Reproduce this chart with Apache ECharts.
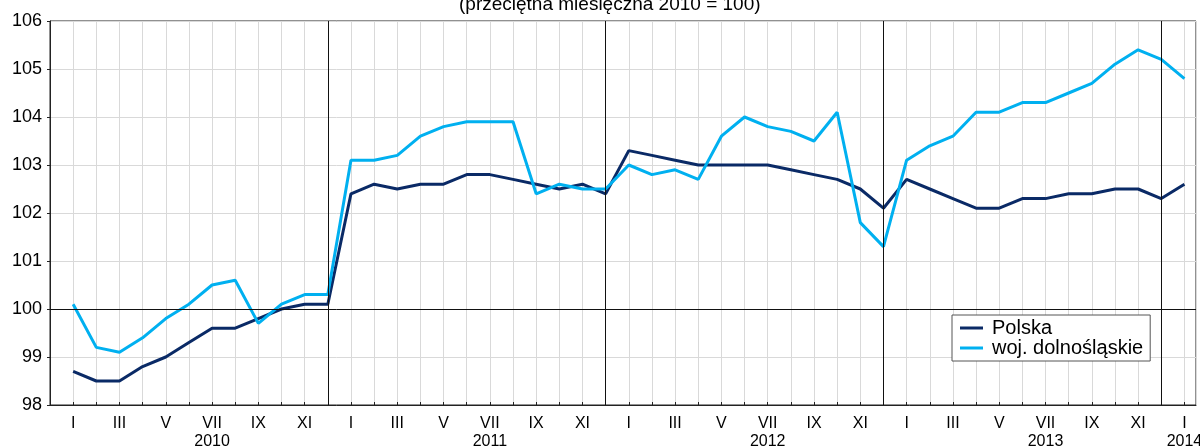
<!DOCTYPE html>
<html>
<head>
<meta charset="utf-8">
<title>Wskaźnik cen</title>
<script src="https://cdn.jsdelivr.net/npm/echarts@6/dist/echarts.min.js"></script>
<style>
body{margin:0;background:#fff;}
</style>
</head>
<body>
<div id="main" style="width:1200px;height:448px"></div>
<script>
// miesiace I 2010 - I 2014
var months=['I','II','III','IV','V','VI','VII','VIII','IX','X','XI','XII'];
var years=['2010','2011','2012','2013','2014'];
var polska=[98.7,98.5,98.5,98.8,99.0,99.3,99.6,99.6,99.8,100.0,100.1,100.1,
	102.4,102.6,102.5,102.6,102.6,102.8,102.8,102.7,102.6,102.5,102.6,102.4,
	103.3,103.2,103.1,103.0,103.0,103.0,103.0,102.9,102.8,102.7,102.5,102.1,
	102.7,102.5,102.3,102.1,102.1,102.3,102.3,102.4,102.4,102.5,102.5,102.3,
	102.6];
var dolnoslaskie=[100.1,99.2,99.1,99.4,99.8,100.1,100.5,100.6,99.7,100.1,100.3,100.3,
	103.1,103.1,103.2,103.6,103.8,103.9,103.9,103.9,102.4,102.6,102.5,102.5,
	103.0,102.8,102.9,102.7,103.6,104.0,103.8,103.7,103.5,104.1,101.8,101.3,
	103.1,103.4,103.6,104.1,104.1,104.3,104.3,104.5,104.7,105.1,105.4,105.2,
	104.8];
var yearBreaks=[11,23,35,47];

function pairs(arr){
	var out=[];
	for(var i=0;i<arr.length;i++) out.push([i,arr[i]]);
	return out;
}

var myChart=echarts.init(document.getElementById('main'));
var font='Arial, "Liberation Sans", sans-serif';

var option={
	animation:false,
	backgroundColor:'#fff',
	textStyle:{fontFamily:font},
	graphic:[{
		type:'text',
		left:459,
		top:-5,
		style:{text:'(przeciętna miesięczna 2010 = 100)',font:'19px '+font,fill:'#000'}
	}],
	grid:{left:50,right:4,top:21,bottom:43,outerBoundsMode:'none',show:true,borderColor:'#222',borderWidth:1},
	legend:{
		left:952,top:315,orient:'vertical',
		backgroundColor:'#fff',borderColor:'#555',borderWidth:1,
		padding:[3,7,3,8],itemGap:0,itemWidth:23,itemHeight:3,icon:'rect',
		textStyle:{fontSize:20,lineHeight:19,color:'#000',fontFamily:font,padding:[0,0,0,4]},
		data:['Polska','woj. dolnośląskie']
	},
	xAxis:{
		type:'value',min:-1,max:48.5,interval:1,
		axisLine:{onZero:false,lineStyle:{color:'#222'}},
		axisTick:{inside:true,length:3,lineStyle:{color:'#222'}},
		splitLine:{show:true,lineStyle:{color:'#d9d9d9',width:1}},
		axisLabel:{
			fontSize:16,color:'#000',margin:9,lineHeight:19,
			showMinLabel:false,showMaxLabel:false,
			rich:{y:{fontSize:16,color:'#000',lineHeight:18}},
			formatter:function(v){
				if(v<0||v>48||v%1!==0) return '';
				var m=v%12, y=Math.floor(v/12);
				if(m%2!==0) return '';
				var s=months[m];
				if(m===6||v===48) s+='\n{y|'+years[y]+'}';
				return s;
			}
		}
	},
	yAxis:{
		type:'value',min:98,max:106,interval:1,
		axisLine:{show:true,onZero:false,lineStyle:{color:'#222'}},
		axisTick:{show:true,length:3,lineStyle:{color:'#222'}},
		splitLine:{lineStyle:{color:'#d9d9d9'}},
		axisLabel:{fontSize:18,color:'#000',margin:8}
	},
	series:[{
		name:'Polska',type:'line',data:pairs(polska),
		symbol:'none',lineStyle:{color:'#0a2a66',width:3},itemStyle:{color:'#0a2a66'},
		z:3,
		markLine:{
			silent:true,symbol:'none',label:{show:false},
			lineStyle:{color:'#111',width:1,type:'solid'},
			data:yearBreaks.map(function(x){return {xAxis:x};}).concat([{yAxis:100}])
		}
	},{
		name:'woj. dolnośląskie',type:'line',data:pairs(dolnoslaskie),
		symbol:'none',lineStyle:{color:'#00b0f0',width:3},itemStyle:{color:'#00b0f0'},
		z:4
	}]
};
myChart.setOption(option);
</script>
</body>
</html>
